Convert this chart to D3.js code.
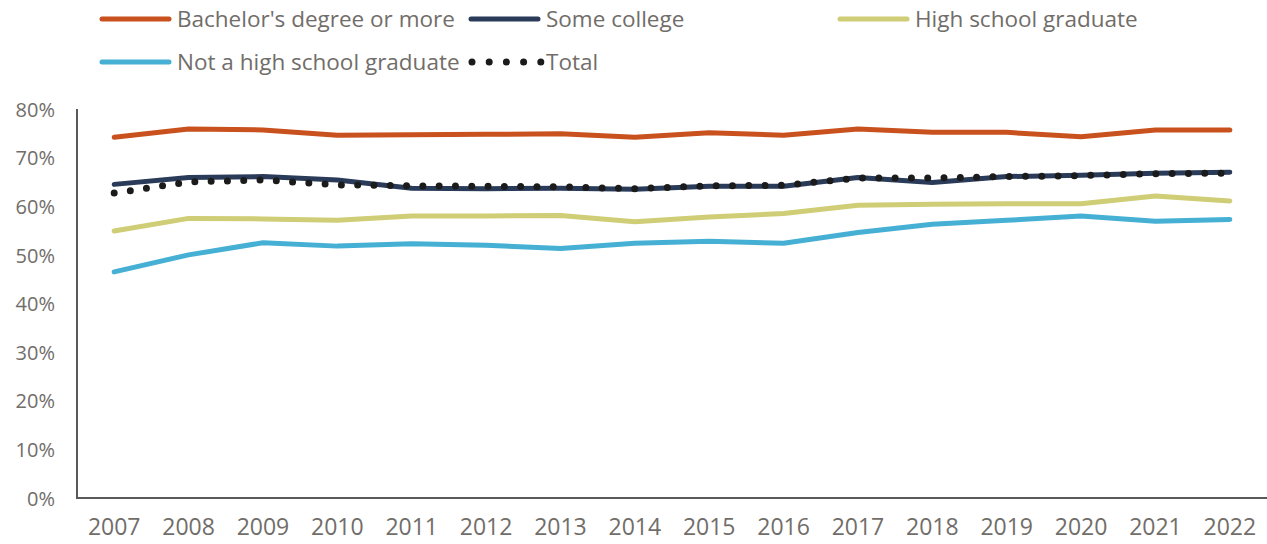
<!DOCTYPE html>
<html>
<head>
<meta charset="utf-8">
<script src="https://cdn.jsdelivr.net/npm/d3@7"></script>
<style>
  html, body { margin: 0; padding: 0; background: #fff; }
  svg { display: block; }
  text { font-family: "Open Sans", Lato, sans-serif; fill: #716d69; }
</style>
</head>
<body>
<svg id="chart" width="1267" height="544"></svg>
<script>
// Years on the x axis
const years = ["2007","2008","2009","2010","2011","2012","2013","2014","2015","2016","2017","2018","2019","2020","2021","2022"];

// Share (%) by educational attainment
const bachelors   = [74.2, 75.9, 75.7, 74.6, 74.7, 74.8, 74.9, 74.2, 75.1, 74.6, 75.9, 75.2, 75.2, 74.3, 75.7, 75.7];
const someCollege = [64.5, 65.9, 66.1, 65.4, 63.7, 63.6, 63.7, 63.5, 64.1, 64.1, 65.9, 64.9, 66.1, 66.4, 66.8, 67.0];
const highSchool  = [54.9, 57.5, 57.4, 57.1, 58.0, 58.0, 58.1, 56.8, 57.8, 58.5, 60.2, 60.4, 60.5, 60.5, 62.1, 61.1];
const notHS       = [46.5, 50.0, 52.5, 51.8, 52.3, 52.0, 51.3, 52.4, 52.8, 52.4, 54.6, 56.3, 57.1, 58.0, 56.9, 57.3];
const total       = [62.7, 65.0, 65.4, 64.4, 64.2, 64.1, 64.0, 63.6, 64.2, 64.3, 65.8, 65.8, 66.1, 66.3, 66.7, 66.8];

const yTicks = [0, 10, 20, 30, 40, 50, 60, 70, 80];

const series = [
  { name: "Bachelor's degree or more", values: bachelors,   color: "#c9511d", dotted: false },
  { name: "Some college",              values: someCollege, color: "#293b58", dotted: false },
  { name: "High school graduate",      values: highSchool,  color: "#cfcd75", dotted: false },
  { name: "Not a high school graduate",values: notHS,       color: "#45b0d4", dotted: false },
  { name: "Total",                     values: total,       color: "#1b1b1b", dotted: true }
];

const svg = d3.select("#chart");
const plot = { left: 77, right: 1267, top: 109, bottom: 498 };

const x = d3.scaleBand().domain(years).range([plot.left, plot.right]);
const y = d3.scaleLinear().domain([0, 80]).range([plot.bottom, plot.top]);

// Y axis labels
const yAxis = d3.axisLeft(y).tickValues(yTicks).tickFormat(d => d + "%").tickSize(0).tickPadding(22);
const gy = svg.append("g").attr("transform", `translate(${plot.left},0)`).call(yAxis);
gy.select(".domain").remove();
gy.selectAll("text").style("font-size", "20px").attr("dy", "0.36em");

// X axis labels
const xAxis = d3.axisBottom(x).tickSize(0).tickPadding(21);
const gx = svg.append("g").attr("transform", `translate(0,${plot.bottom})`).call(xAxis);
gx.select(".domain").remove();
gx.selectAll("text").style("font-size", "23px").attr("dy", "0.71em");

// Axis lines
svg.append("line")
  .attr("x1", plot.left).attr("x2", plot.left)
  .attr("y1", plot.top).attr("y2", plot.bottom)
  .attr("stroke", "#595959").attr("stroke-width", 2);
svg.append("line")
  .attr("x1", plot.left - 1).attr("x2", plot.right)
  .attr("y1", plot.bottom).attr("y2", plot.bottom)
  .attr("stroke", "#595959").attr("stroke-width", 2);

const line = d3.line()
  .x((d, i) => x(years[i]) + x.bandwidth() / 2)
  .y(d => y(d));

series.forEach(s => {
  const p = svg.append("path")
    .datum(s.values)
    .attr("d", line)
    .attr("fill", "none")
    .attr("stroke", s.color)
    .attr("stroke-linecap", "round")
    .attr("stroke-linejoin", "round");
  if (s.dotted) {
    p.attr("stroke-width", 7).attr("stroke-dasharray", "0 16.3");
  } else {
    p.attr("stroke-width", 5);
  }
});

// Legend
const legendCols = [100, 469, 838];
const legendRows = [19, 62];
const legendItems = [
  { s: series[0], col: 0, row: 0 },
  { s: series[1], col: 1, row: 0 },
  { s: series[2], col: 2, row: 0 },
  { s: series[3], col: 0, row: 1 },
  { s: series[4], col: 1, row: 1 }
];
legendItems.forEach(it => {
  const gx0 = legendCols[it.col];
  const gy0 = legendRows[it.row];
  const g = svg.append("g").attr("transform", `translate(${gx0},${gy0})`);
  if (it.s.dotted) {
    g.append("line").attr("x1", 3).attr("x2", 72).attr("y1", 0).attr("y2", 0)
      .attr("stroke", it.s.color).attr("stroke-width", 7)
      .attr("stroke-linecap", "round").attr("stroke-dasharray", "0 17.2");
  } else {
    g.append("line").attr("x1", 2).attr("x2", 69).attr("y1", 0).attr("y2", 0)
      .attr("stroke", it.s.color).attr("stroke-width", 5).attr("stroke-linecap", "round");
  }
  g.append("text").attr("x", 77).attr("y", 0).attr("dy", "0.36em")
    .style("font-size", "22.5px").text(it.s.name);
});
</script>
</body>
</html>
